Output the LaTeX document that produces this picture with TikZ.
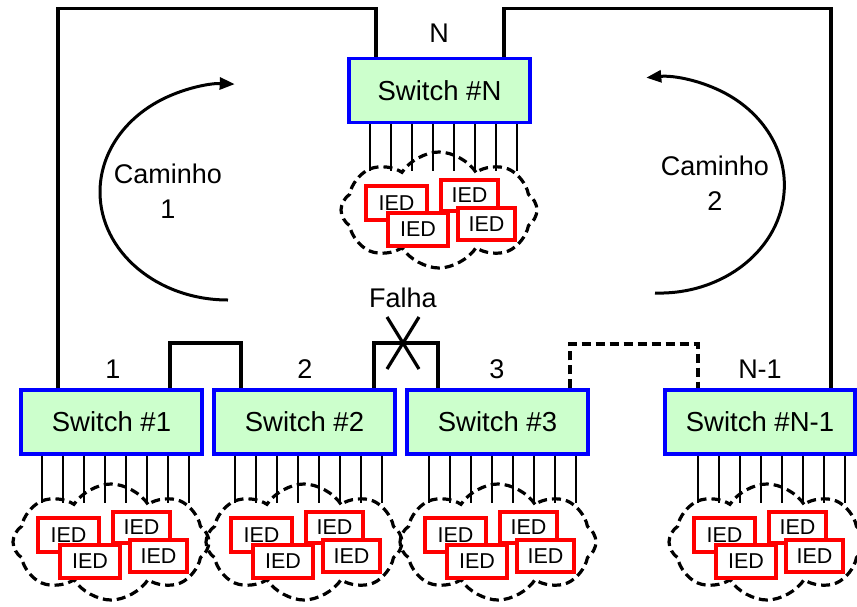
\documentclass[tikz,border=0pt]{standalone}
\usepackage{fontspec}
\setmainfont{Liberation Sans}
\usetikzlibrary{shapes.symbols,arrows.meta}
\definecolor{swfill}{HTML}{CCFFCC}
\definecolor{swblue}{HTML}{0000FF}
\definecolor{iedred}{HTML}{FF0000}
\newcommand\iedgrp[3]{% #1 switch name, #2 port centre x, #3 switch top y
  \foreach \k in {0,...,7}
    \draw[port] ({#2-73.5+21*\k},0 |- #1.south) -- ({#2-73.5+21*\k},{#3+113});
  \node[cld] (#1c) at ({#2-4.5},{#3+152}) {};
  \node[ied, minimum width=61pt, minimum height=34pt] (#1a) at ({#2-47},{#3+145}) {IED};
  \node[ied, minimum width=60pt, minimum height=33pt] (#1b) at ({#2-25.5},{#3+171.5}) {IED};
  \node[ied, minimum width=57pt, minimum height=31pt] (#1d) at ({#2+26},{#3+137.5}) {IED};
  \node[ied, minimum width=57pt, minimum height=32pt] (#1e) at ({#2+43},{#3+166}) {IED};
}
\begin{document}
\begin{tikzpicture}[x=1pt,y=-1pt,
  sw/.style={draw=swblue, line width=3.4pt, fill=swfill, minimum width=181pt, minimum height=64pt, inner sep=0pt, font=\fontsize{27.5}{30}\selectfont},
  ied/.style={draw=iedred, line width=3.2pt, fill=white, inner sep=0pt, font=\fontsize{21.5}{23}\selectfont},
  cld/.style={cloud, cloud puffs=8, cloud puff arc=115, cloud ignores aspect, draw, line width=3.2pt, dash pattern=on 9pt off 5pt, minimum width=196pt, minimum height=116pt, inner sep=0pt},
  port/.style={line width=1.4pt},
  link/.style={line width=3.2pt},
  lbl/.style={font=\fontsize{27}{29}\selectfont, inner sep=0pt},
  arr/.style={line width=3pt, -{Triangle[length=15pt,width=12pt]}}
]
\useasboundingbox (0,0) rectangle (857,606);

% switches
\node[sw] (sN) at (439.5,90.5) {Switch \#N};
\node[sw] (s1) at (111.5,422) {Switch \#1};
\node[sw] (s2) at (304.5,422) {Switch \#2};
\node[sw] (s3) at (497.5,422) {Switch \#3};
\node[sw, minimum width=190pt] (sN1) at (760,422) {Switch \#N-1};

% ports, clouds, IEDs
\iedgrp{sN}{443.5}{58}
\iedgrp{s1}{115.5}{390}
\iedgrp{s2}{308.5}{390}
\iedgrp{s3}{502.5}{390}
\iedgrp{sN1}{771.5}{390}

% ring links
\draw[link] (58,0 |- s1.north) |- (376,8.5) -- (376,0 |- sN.north);
\draw[link] (504,0 |- sN.north) |- (831,8.5) -- (831,0 |- sN1.north);
\draw[link] (170,0 |- s1.north) |- (241,343) -- (241,0 |- s2.north);
\draw[link] (374,0 |- s2.north) |- (438,343) -- (438,0 |- s3.north);
\draw[link, dash pattern=on 9pt off 5pt] (570,0 |- s3.north) |- (698,344) -- (698,0 |- sN1.north);

% failure mark
\coordinate (fail) at (403,343);
\draw[link] (fail) ++(-16,-26) -- ++(32,52);
\draw[link] (fail) ++(16,-26) -- ++(-32,52);
\node[lbl] (falha) at (403,298) {Falha};

% labels
\node[lbl] (lN) at (439,33) {N};
\node[lbl] (l1) at (113,369) {1};
\node[lbl] (l2) at (305,369) {2};
\node[lbl] (l3) at (497,369) {3};
\node[lbl] (lN1) at (760,369) {N-1};

% paths
\draw[arr] (228,300) arc[start angle=90, end angle=273, x radius=128, y radius=108];
\node[lbl, align=center] (c1) at (168,191) {Caminho\\[6pt]1};
\draw[arr] (655,293) arc[start angle=92, end angle=-96, x radius=125, y radius=108];
\node[lbl, align=center] (c2) at (715,183) {Caminho\\[6pt]2};
\end{tikzpicture}
\end{document}
